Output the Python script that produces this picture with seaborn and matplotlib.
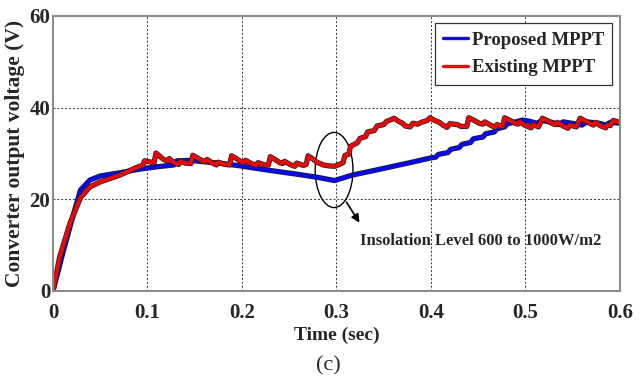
import numpy as np
import pandas as pd
import seaborn as sns
import matplotlib
matplotlib.use("Agg")
import matplotlib.pyplot as plt
from matplotlib.patches import Ellipse
import matplotlib.patheffects as pe

# Proposed MPPT: converter output voltage (V) vs time (s)
t_proposed = [0.000, 0.010, 0.020, 0.029, 0.039, 0.050, 0.071, 0.092, 0.110, 0.128,
              0.131, 0.145, 0.160, 0.180, 0.198, 0.220, 0.240, 0.261, 0.280, 0.298,
              0.317, 0.340, 0.360, 0.380, 0.399, 0.405, 0.408, 0.418, 0.421, 0.430,
              0.433, 0.442, 0.445, 0.455, 0.458, 0.467, 0.470, 0.478, 0.481, 0.490,
              0.497, 0.505, 0.512, 0.518, 0.528, 0.535, 0.540, 0.552, 0.560, 0.565,
              0.578, 0.585, 0.590, 0.600]
v_proposed = [0.0, 8.0, 15.5, 22.0, 24.2, 25.1, 25.8, 26.6, 27.1, 27.5,
              28.4, 28.5, 28.2, 27.8, 27.3, 26.6, 26.0, 25.4, 24.8, 24.1,
              25.3, 26.3, 27.2, 28.1, 29.0, 29.2, 29.8, 30.2, 30.9, 31.3,
              32.0, 32.4, 33.2, 33.6, 34.3, 34.7, 35.4, 35.8, 36.5, 36.9,
              37.3, 37.0, 36.6, 37.2, 36.8, 36.3, 36.9, 36.5, 36.2, 36.9,
              36.6, 36.2, 36.8, 36.6]

# Existing MPPT: converter output voltage (V) vs time (s)
t_existing = [0.000, 0.007, 0.018, 0.029, 0.039, 0.050, 0.071, 0.089, 0.095, 0.097,
              0.104, 0.107, 0.109, 0.114, 0.118, 0.121, 0.123, 0.128, 0.133, 0.135,
              0.140, 0.146, 0.148, 0.153, 0.158, 0.161, 0.163, 0.168, 0.173, 0.175,
              0.182, 0.187, 0.189, 0.194, 0.199, 0.202, 0.204, 0.210, 0.215, 0.217,
              0.224, 0.228, 0.230, 0.235, 0.240, 0.243, 0.245, 0.251, 0.256, 0.258,
              0.265, 0.268, 0.270, 0.275, 0.280, 0.283, 0.286, 0.292, 0.298, 0.303,
              0.307, 0.309, 0.313, 0.315, 0.322, 0.325, 0.331, 0.333, 0.340, 0.343,
              0.350, 0.353, 0.358, 0.361, 0.366, 0.370, 0.373, 0.378, 0.381, 0.386,
              0.390, 0.396, 0.399, 0.404, 0.409, 0.412, 0.417, 0.420, 0.428, 0.432,
              0.438, 0.440, 0.446, 0.451, 0.455, 0.457, 0.463, 0.468, 0.470, 0.476,
              0.478, 0.484, 0.489, 0.492, 0.494, 0.500, 0.506, 0.508, 0.514, 0.518,
              0.524, 0.529, 0.532, 0.534, 0.540, 0.545, 0.547, 0.554, 0.558, 0.564,
              0.569, 0.572, 0.574, 0.580, 0.585, 0.587, 0.590, 0.593, 0.600]
v_existing = [0.0, 7.4, 14.8, 20.3, 22.7, 23.8, 25.3, 27.0, 27.4, 28.4,
              28.1, 28.0, 30.1, 29.2, 28.6, 28.4, 28.9, 28.0, 27.6, 28.3,
              27.9, 27.8, 29.6, 29.0, 28.4, 28.2, 28.7, 28.0, 27.5, 28.1,
              27.6, 27.5, 29.5, 28.9, 28.2, 28.0, 28.5, 27.8, 27.4, 28.0,
              27.5, 27.5, 29.3, 28.7, 28.0, 27.8, 28.3, 27.6, 27.2, 27.9,
              27.4, 27.6, 29.5, 28.8, 28.0, 27.8, 27.5, 27.3, 27.2, 27.6,
              28.0, 29.6, 29.8, 31.6, 32.3, 33.3, 33.7, 34.7, 35.0, 36.0,
              36.3, 37.0, 37.4, 37.7, 37.0, 36.6, 36.0, 35.8, 36.6, 36.4,
              36.8, 37.2, 37.8, 37.2, 36.8, 36.3, 35.7, 36.5, 36.3, 35.9,
              35.9, 37.8, 37.2, 36.6, 36.4, 36.9, 36.2, 35.7, 36.3, 35.9,
              37.8, 37.2, 36.6, 36.4, 36.9, 36.1, 35.6, 36.3, 35.8, 37.7,
              37.1, 36.5, 36.3, 36.8, 36.0, 35.5, 36.2, 35.8, 37.7, 37.0,
              36.5, 36.2, 36.8, 36.0, 35.6, 36.2, 36.1, 37.2, 36.8]

x_ticks = [0, 0.1, 0.2, 0.3, 0.4, 0.5, 0.6]
x_tick_labels = ["0", "0.1", "0.2", "0.3", "0.4", "0.5", "0.6"]
y_ticks = [0, 20, 40, 60]

sns.set_theme(style="white")
plt.rcParams["font.family"] = ["Liberation Serif", "DejaVu Serif"]

df_prop = pd.DataFrame({"t": t_proposed, "v": v_proposed})
df_exist = pd.DataFrame({"t": t_existing, "v": v_existing})

fig = plt.figure(figsize=(6.41, 3.78), dpi=100)
ax = fig.add_axes([0.0827, 0.2302, 0.8843, 0.7275])

outline = [pe.Stroke(linewidth=3.8, foreground="#202020"), pe.Normal()]
sns.lineplot(data=df_prop, x="t", y="v", ax=ax, color="#0a0ae6", linewidth=2.8,
             label="Proposed MPPT", estimator=None, sort=False,
             path_effects=outline)
sns.lineplot(data=df_exist, x="t", y="v", ax=ax, color="#e60a0a", linewidth=2.8,
             label="Existing MPPT", estimator=None, sort=False,
             path_effects=outline)

ax.set_xlim(0, 0.6)
ax.set_ylim(0, 60)
ax.set_xticks(x_ticks)
ax.set_xticklabels(x_tick_labels)
ax.set_yticks(y_ticks)
ax.tick_params(axis="x", labelsize=15, length=0, pad=9)
ax.tick_params(axis="y", labelsize=15, length=0, pad=2)
for lab in ax.get_xticklabels() + ax.get_yticklabels():
    lab.set_fontweight("bold")

ax.grid(True, color="#333333", linestyle=(0, (2, 2)), linewidth=0.7)
for s in ax.spines.values():
    s.set_color("#8c8c8c")
    s.set_linewidth(1.5)

ax.set_xlabel("Time (sec)", fontsize=14, fontweight="bold", labelpad=2)
ax.set_ylabel("Converter output voltage (V)", fontsize=15.5, fontweight="bold", labelpad=3)

leg = ax.legend(loc="upper right", borderaxespad=0.4, handlelength=1.3,
                handletextpad=0.2, borderpad=0.45, labelspacing=0.55,
                prop={"family": "Liberation Serif", "weight": "bold", "size": 13.5},
                fancybox=False, framealpha=1)
leg.get_frame().set_edgecolor("#333333")
leg.get_frame().set_linewidth(0.9)
for h in leg.get_lines():
    h.set_linewidth(2.4)
    h.set_path_effects([])

# Insolation step marker
ax.add_patch(Ellipse((0.2975, 26.4), 0.04, 16.4, fill=False, edgecolor="black", linewidth=1.0))
ax.annotate("", xy=(0.326, 14.4), xytext=(0.309, 19.9),
            arrowprops=dict(arrowstyle="-|>", color="black", lw=1.2, mutation_scale=12))
ax.text(0.325, 11.0, "Insolation Level 600 to 1000W/m2", fontsize=12, fontweight="bold",
        va="center", ha="left")

fig.text(0.513, 0.032, "(c)", fontsize=16, ha="center", va="center")

fig.savefig("out.png", dpi=100)
